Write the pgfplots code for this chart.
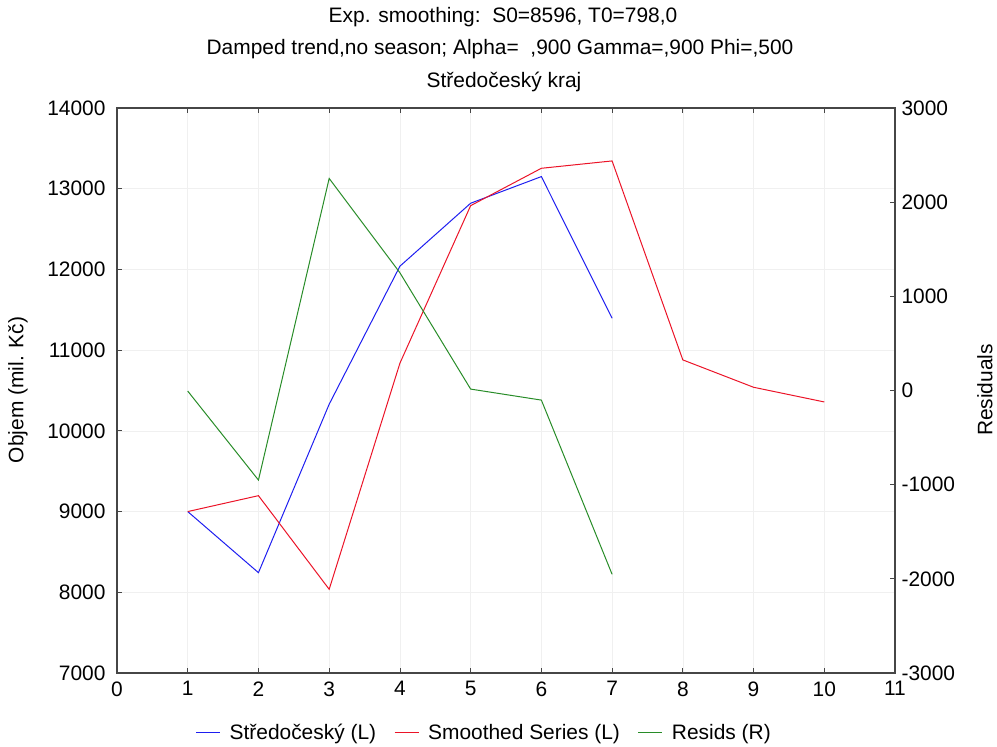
\documentclass[border=0pt]{standalone}
\usepackage{fontspec}
\setmainfont{Liberation Sans}
\usepackage{pgfplots}
\pgfplotsset{compat=1.18}
\definecolor{cblue}{RGB}{30,30,240}
\definecolor{cred}{RGB}{235,20,40}
\definecolor{cgreen}{RGB}{40,140,40}
\definecolor{caxis}{RGB}{70,70,70}
\begin{document}
\begin{tikzpicture}[x=1bp,y=1bp]
\useasboundingbox (-117,-74) rectangle (880,673);
\pgfplotsset{
  every axis/.append style={
    scale only axis, width=778bp, height=565bp,
    at={(0,0)}, anchor=south west,
    xmin=0, xmax=11,
    axis line style={caxis, line width=1.4bp},
    tick style={caxis, line width=0.8bp},
    major tick length=5bp,
    tick label style={font=\fontsize{21}{24}\selectfont},
    /pgf/number format/assume math mode=true,
    /pgf/number format/1000 sep={},
    scaled ticks=false,
  }
}
\begin{axis}[
  ymin=7000, ymax=14000,
  xtick={0,1,...,11},
  ytick={7000,8000,...,14000},
  grid=major,
  major grid style={gray!12, line width=0.6bp},
  xticklabel style={yshift=-5bp},
  yticklabel style={xshift=-8bp},
  ytick pos=left,
]
\addplot[cblue, line width=1bp] coordinates {(1,9000) (2,8243) (3,10330) (4,12040) (5,12820) (6,13150) (7,11395)};
\addplot[cred, line width=1bp] coordinates {(1,9000) (2,9197) (3,8037) (4,10838) (5,12790) (6,13253) (7,13344) (8,10879) (9,10540) (10,10358)};
\end{axis}
\begin{axis}[
  ymin=-3000, ymax=3000,
  ytick={-3000,-2000,...,3000},
  axis x line=none,
  axis y line*=right,
  yticklabel style={xshift=3bp},
  legend style={at={(0.472,-0.106)}, anchor=center, draw=none, fill=none,
    legend columns=3, font=\fontsize{21}{24}\selectfont,
    /tikz/every odd column/.append style={column sep=7bp},
    /tikz/every even column/.append style={column sep=16bp}},
  legend image code/.code={\draw[#1, line width=1bp] (0bp,0bp) -- (24bp,0bp);},
]
\addlegendimage{cblue}
\addlegendentry{Středočeský (L)}
\addlegendimage{cred}
\addlegendentry{Smoothed Series (L)}
\addplot[cgreen, line width=1bp] coordinates {(1,-6) (2,-951) (3,2252) (4,1250) (5,15) (6,-102) (7,-1952)};
\addlegendentry{Resids (R)}
\end{axis}
\node[font=\fontsize{21}{24}\selectfont] at (386,656) {Exp. smoothing:\ \ S0=8596, T0=798,0};
\node[font=\fontsize{21}{24}\selectfont] at (383,624) {Damped trend,no season; Alpha=\ \ ,900 Gamma=,900 Phi=,500};
\node[font=\fontsize{21}{24}\selectfont] at (387,591) {Středočeský kraj};
\node[font=\fontsize{21}{24}\selectfont, rotate=90] at (-99,283) {Objem (mil. Kč)};
\node[font=\fontsize{21}{24}\selectfont, rotate=90] at (868,283) {Residuals};
\end{tikzpicture}
\end{document}
